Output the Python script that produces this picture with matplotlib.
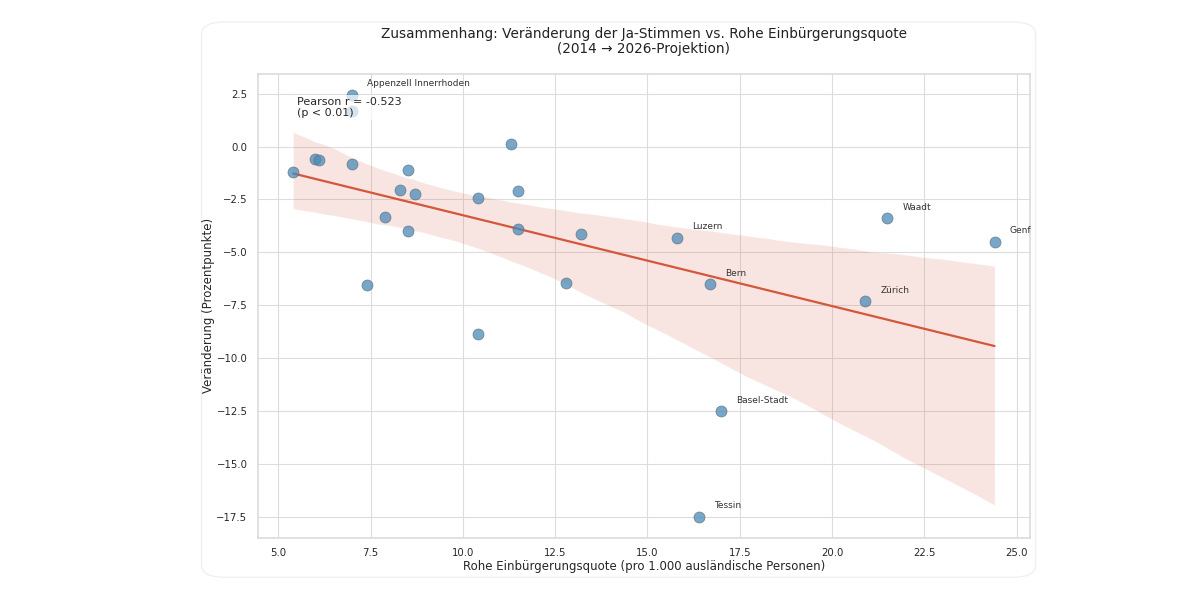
import matplotlib
matplotlib.use("Agg")
import matplotlib.pyplot as plt
import seaborn as sns
import numpy as np
from matplotlib.patches import FancyBboxPatch

# Rohe Einbürgerungsquote pro 1.000 ausländische Personen, Veränderung in Prozentpunkten
cantons = [
    "Appenzell Innerrhoden", "", "", "", "", "", "", "", "", "", "",
    "", "", "", "", "", "", "", "",
    "Luzern", "Bern", "Basel-Stadt", "Tessin", "Zürich", "Waadt", "Genf",
]
quote = [
    7.0, 7.0, 5.4, 6.0, 6.1, 7.0, 7.4, 7.9, 8.3, 8.5, 8.7,
    8.5, 10.4, 10.4, 11.3, 11.5, 11.5, 12.8, 13.2,
    15.8, 16.7, 17.0, 16.4, 20.9, 21.5, 24.4,
]
change = [
    2.45, 1.7, -1.2, -0.6, -0.65, -0.8, -6.55, -3.35, -2.05, -1.1, -2.25,
    -4.0, -2.45, -8.87, 0.1, -2.12, -3.92, -6.45, -4.15,
    -4.3, -6.5, -12.5, -17.5, -7.3, -3.4, -4.5,
]
labelled = {"Appenzell Innerrhoden", "Luzern", "Bern", "Basel-Stadt", "Tessin", "Zürich", "Waadt", "Genf"}

sns.set_theme(style="whitegrid")
plt.rcParams["font.family"] = ["DejaVu Sans"]

fig = plt.figure(figsize=(12, 6.09), dpi=100)
fig.patches.append(
    FancyBboxPatch((0.168, 0.052), 0.695, 0.912, boxstyle="round,pad=0,rounding_size=0.02",
                   transform=fig.transFigure, facecolor="white", edgecolor="#f0f0f0", linewidth=1.0,
                   zorder=-10)
)
ax = fig.add_axes([0.215, 0.117, 0.643, 0.762])

sns.regplot(x=np.array(quote), y=np.array(change), ax=ax, scatter=False, ci=95, seed=42,
            line_kws={"color": "#d4573b", "linewidth": 1.6}, color="#e8907a")
ax.scatter(quote, change, s=62, color="#4a8bb8", alpha=0.75, edgecolor="#5f6f7f", linewidth=0.6, zorder=3)

for name, x, y in zip(cantons, quote, change):
    if name in labelled:
        ax.annotate(name, (x, y), xytext=(11, 6), textcoords="offset points", fontsize=6.5, color="#333333")

ax.text(0.05, 0.95, "Pearson r = -0.523\n(p < 0.01)", transform=ax.transAxes, va="top", fontsize=8,
        bbox=dict(facecolor="white", alpha=0.7, edgecolor="none", boxstyle="square,pad=0.15"), zorder=4)

ax.set_title("Zusammenhang: Veränderung der Ja-Stimmen vs. Rohe Einbürgerungsquote\n(2014 → 2026-Projektion)",
             fontsize=9.8, color="#222222", linespacing=1.1, pad=15)
ax.set_xlabel("Rohe Einbürgerungsquote (pro 1.000 ausländische Personen)", fontsize=8.5, labelpad=1)
ax.set_ylabel("Veränderung (Prozentpunkte)", fontsize=8.5, labelpad=1)
ax.tick_params(labelsize=7.3, pad=1.5)
ax.grid(color="#dcdcdc", linewidth=0.8)
for s in ax.spines.values():
    s.set_color("#dddddd")

fig.savefig("out.png", dpi=100, facecolor="white")
